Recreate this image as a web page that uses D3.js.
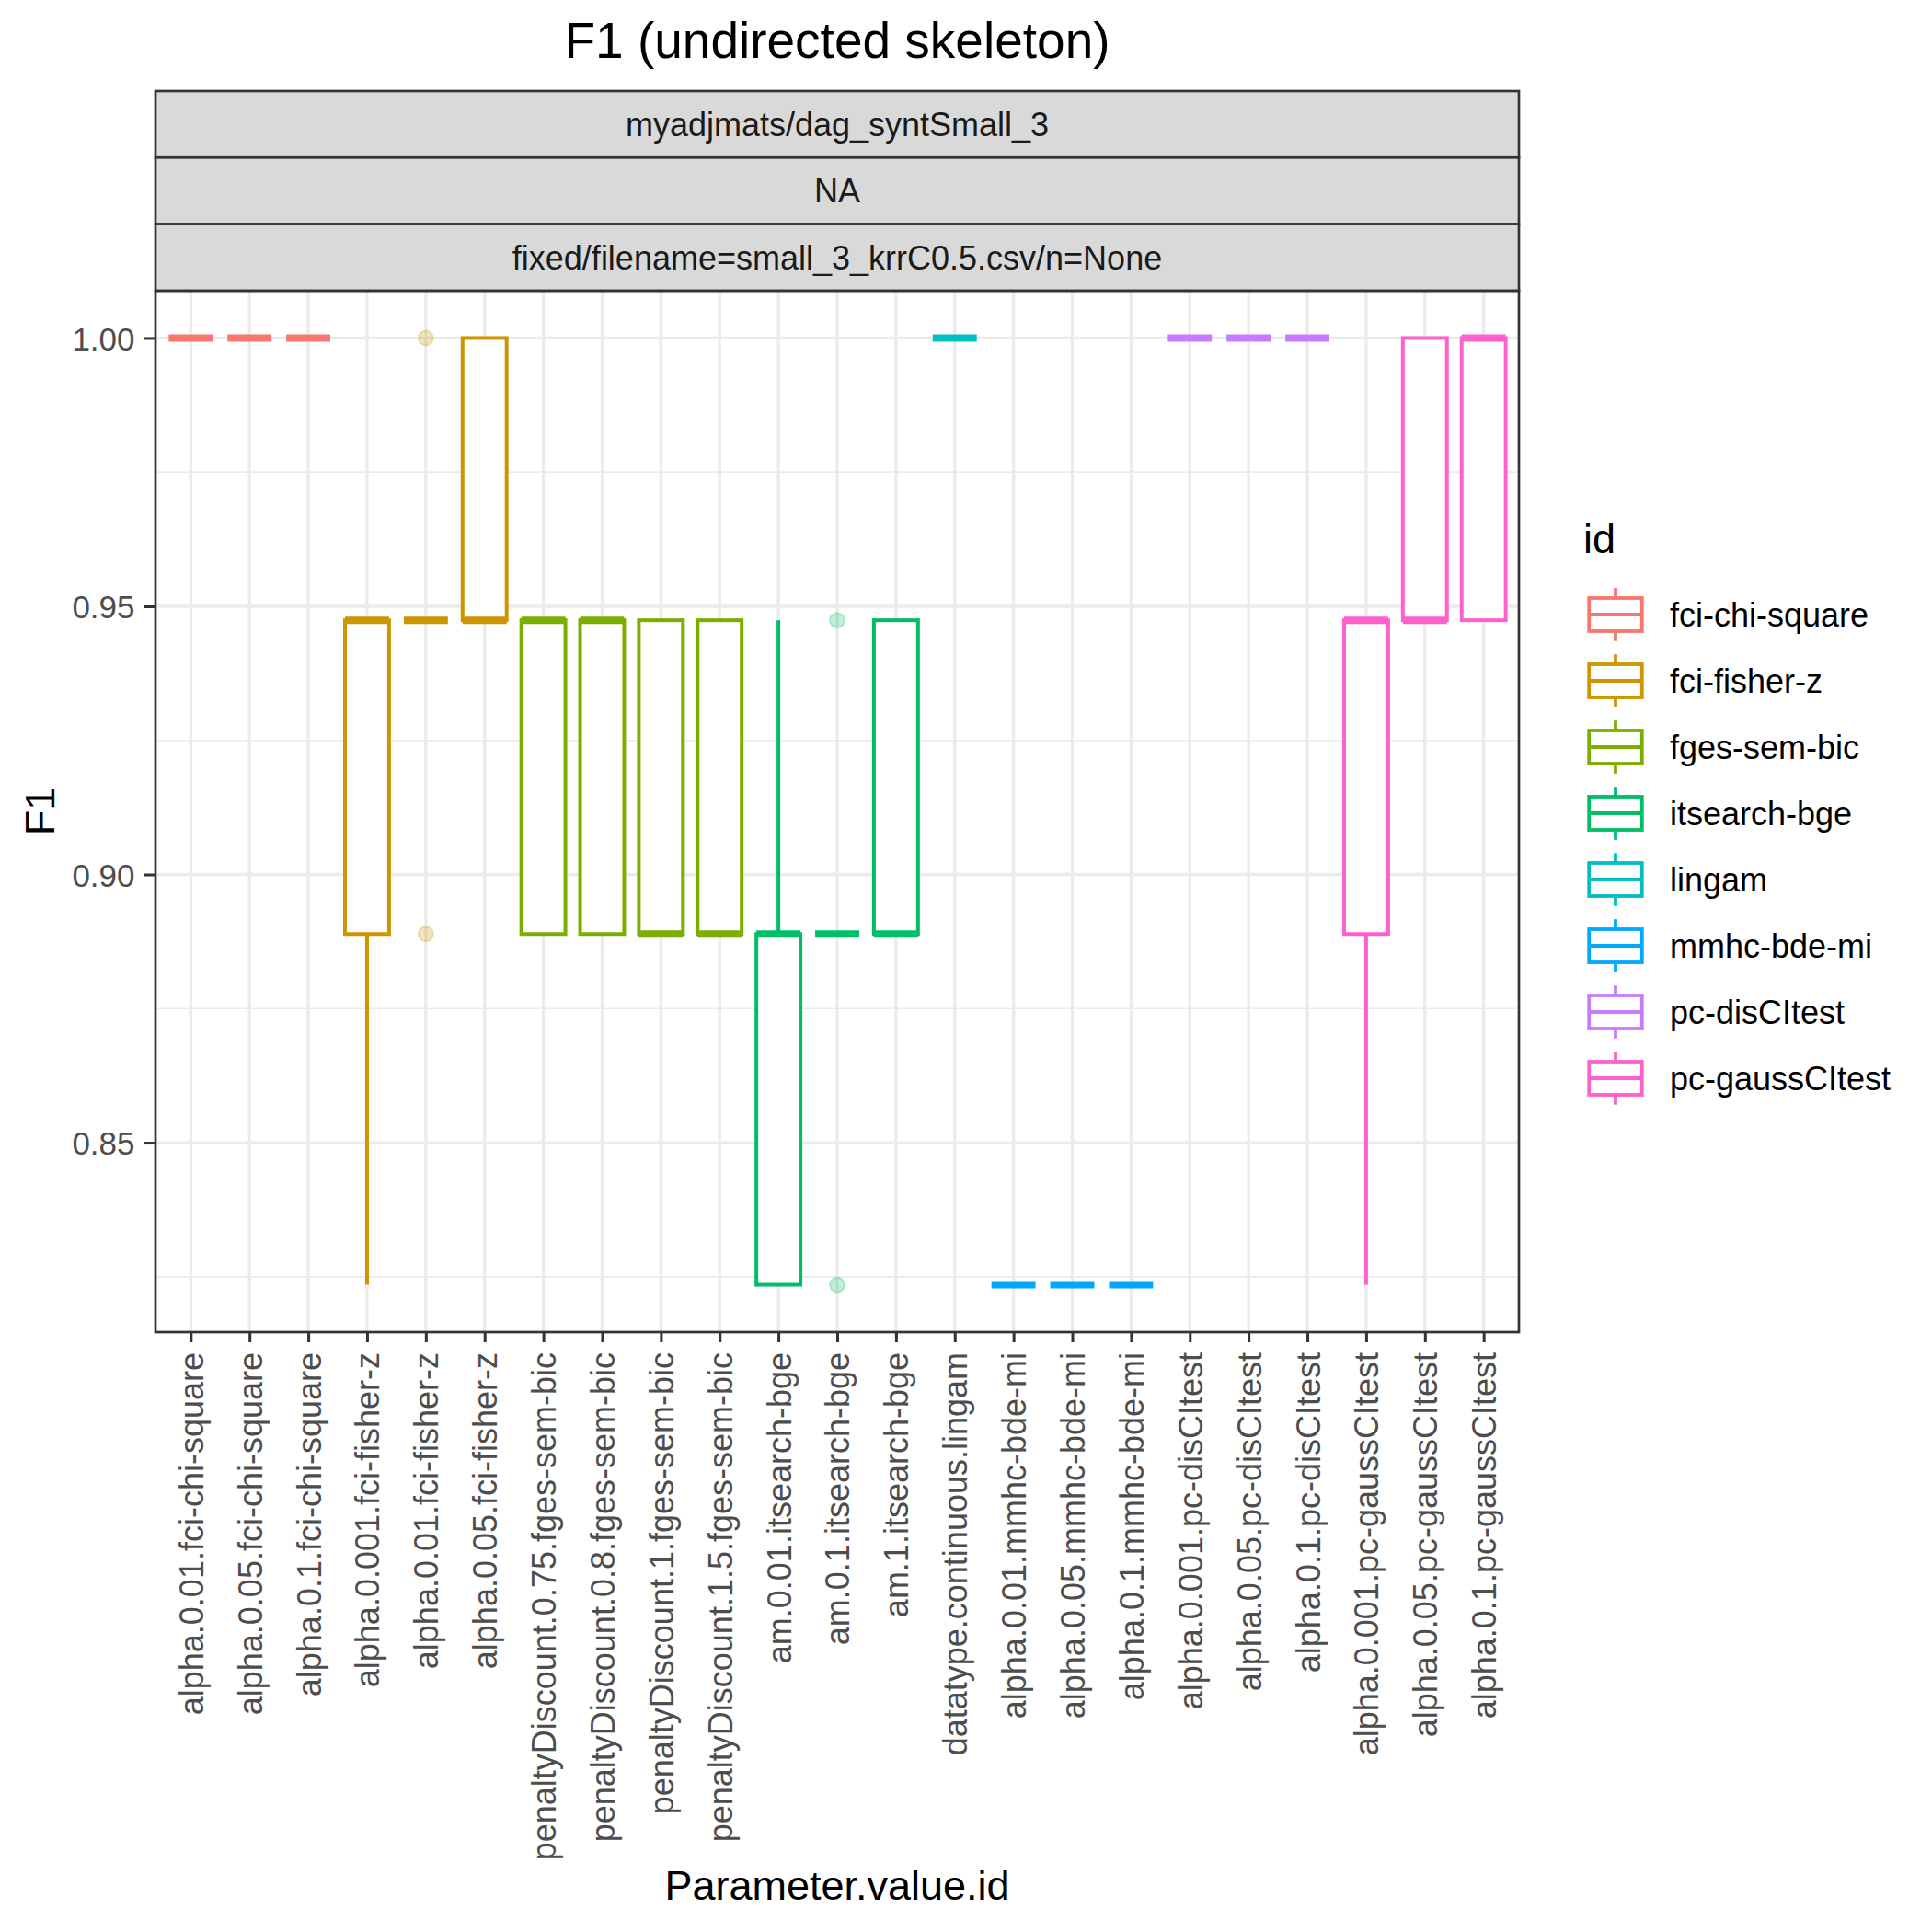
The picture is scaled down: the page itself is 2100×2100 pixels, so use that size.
<!DOCTYPE html>
<html>
<head>
<meta charset="utf-8">
<script src="https://cdn.jsdelivr.net/npm/d3@7"></script>
<style>
  body { margin: 0; background: #fff; }
  text { font-family: "Liberation Sans", Arial, Helvetica, sans-serif; }
</style>
</head>
<body>
<script>
// data
const categories = [
  "alpha.0.01.fci-chi-square", "alpha.0.05.fci-chi-square", "alpha.0.1.fci-chi-square",
  "alpha.0.001.fci-fisher-z", "alpha.0.01.fci-fisher-z", "alpha.0.05.fci-fisher-z",
  "penaltyDiscount.0.75.fges-sem-bic", "penaltyDiscount.0.8.fges-sem-bic",
  "penaltyDiscount.1.fges-sem-bic", "penaltyDiscount.1.5.fges-sem-bic",
  "am.0.01.itsearch-bge", "am.0.1.itsearch-bge", "am.1.itsearch-bge",
  "datatype.continuous.lingam",
  "alpha.0.01.mmhc-bde-mi", "alpha.0.05.mmhc-bde-mi", "alpha.0.1.mmhc-bde-mi",
  "alpha.0.001.pc-disCItest", "alpha.0.05.pc-disCItest", "alpha.0.1.pc-disCItest",
  "alpha.0.001.pc-gaussCItest", "alpha.0.05.pc-gaussCItest", "alpha.0.1.pc-gaussCItest"
];
const groupOf = [
  "fci-chi-square", "fci-chi-square", "fci-chi-square",
  "fci-fisher-z", "fci-fisher-z", "fci-fisher-z",
  "fges-sem-bic", "fges-sem-bic", "fges-sem-bic", "fges-sem-bic",
  "itsearch-bge", "itsearch-bge", "itsearch-bge",
  "lingam",
  "mmhc-bde-mi", "mmhc-bde-mi", "mmhc-bde-mi",
  "pc-disCItest", "pc-disCItest", "pc-disCItest",
  "pc-gaussCItest", "pc-gaussCItest", "pc-gaussCItest"
];
const ids = ["fci-chi-square", "fci-fisher-z", "fges-sem-bic", "itsearch-bge",
  "lingam", "mmhc-bde-mi", "pc-disCItest", "pc-gaussCItest"];
const idColors = ["#F8766D", "#CD9600", "#7CAE00", "#00BE67",
  "#00BFC4", "#00A9FF", "#C77CFF", "#FF61CC"];

const lowerW = [1, 1, 1, 0.8235, 0.9474, 0.9474, 0.8889, 0.8889, 0.8889, 0.8889,
  0.8235, 0.8889, 0.8889, 1, 0.8235, 0.8235, 0.8235, 1, 1, 1, 0.8235, 0.9474, 0.9474];
const q1 = [1, 1, 1, 0.8889, 0.9474, 0.9474, 0.8889, 0.8889, 0.8889, 0.8889,
  0.8235, 0.8889, 0.8889, 1, 0.8235, 0.8235, 0.8235, 1, 1, 1, 0.8889, 0.9474, 0.9474];
const medians = [1, 1, 1, 0.9474, 0.9474, 0.9474, 0.9474, 0.9474, 0.8889, 0.8889,
  0.8889, 0.8889, 0.8889, 1, 0.8235, 0.8235, 0.8235, 1, 1, 1, 0.9474, 0.9474, 1];
const q3 = [1, 1, 1, 0.9474, 0.9474, 1, 0.9474, 0.9474, 0.9474, 0.9474,
  0.8889, 0.8889, 0.9474, 1, 0.8235, 0.8235, 0.8235, 1, 1, 1, 0.9474, 1, 1];
const upperW = [1, 1, 1, 0.9474, 0.9474, 1, 0.9474, 0.9474, 0.9474, 0.9474,
  0.9474, 0.8889, 0.9474, 1, 0.8235, 0.8235, 0.8235, 1, 1, 1, 0.9474, 1, 1];
const outliers = [
  { cat: "alpha.0.01.fci-fisher-z", value: 1.0 },
  { cat: "alpha.0.01.fci-fisher-z", value: 0.8889 },
  { cat: "am.0.1.itsearch-bge", value: 0.9474 },
  { cat: "am.0.1.itsearch-bge", value: 0.8235 }
];
const yTicks = [0.85, 0.90, 0.95, 1.00];
const yMinor = [0.825, 0.875, 0.925, 0.975];
const stripLabels = ["myadjmats/dag_syntSmall_3", "NA", "fixed/filename=small_3_krrC0.5.csv/n=None"];

const W = 2100, H = 2100;
const panel = { left: 169, right: 1651, top: 316, bottom: 1448 };
const stripTop = 99, stripH = 72.3;

const svg = d3.select("body").append("svg")
  .attr("width", W).attr("height", H);
svg.append("rect").attr("width", W).attr("height", H).attr("fill", "#fff");

const color = d3.scaleOrdinal().domain(ids).range(idColors);

const x = d3.scalePoint()
  .domain(categories)
  .range([panel.left, panel.right])
  .padding(0.6);

const allVals = lowerW.concat(upperW, outliers.map(d => d.value));
const ext = d3.extent(allVals);
const pad = (ext[1] - ext[0]) * 0.05;
const y = d3.scaleLinear()
  .domain([ext[0] - pad, ext[1] + pad])
  .range([panel.bottom, panel.top]);

const boxes = categories.map((c, i) => ({
  cat: c, id: groupOf[i], lo: lowerW[i], q1: q1[i], med: medians[i], q3: q3[i], hi: upperW[i]
}));

// gridlines
const grid = svg.append("g");
grid.selectAll(".minor").data(yMinor).enter().append("line")
  .attr("x1", panel.left).attr("x2", panel.right)
  .attr("y1", d => y(d)).attr("y2", d => y(d))
  .attr("stroke", "#EBEBEB").attr("stroke-width", 1.7);
grid.selectAll(".majy").data(yTicks).enter().append("line")
  .attr("x1", panel.left).attr("x2", panel.right)
  .attr("y1", d => y(d)).attr("y2", d => y(d))
  .attr("stroke", "#EBEBEB").attr("stroke-width", 3.3);
grid.selectAll(".majx").data(categories).enter().append("line")
  .attr("x1", d => x(d)).attr("x2", d => x(d))
  .attr("y1", panel.top).attr("y2", panel.bottom)
  .attr("stroke", "#EBEBEB").attr("stroke-width", 3.3);

// boxplots
const bw = x.step() * 0.75;
const bg = svg.append("g").selectAll("g").data(boxes).enter().append("g")
  .attr("stroke", d => color(d.id));
bg.append("line")
  .attr("x1", d => x(d.cat)).attr("x2", d => x(d.cat))
  .attr("y1", d => y(d.q3)).attr("y2", d => y(d.hi))
  .attr("stroke-width", 4);
bg.append("line")
  .attr("x1", d => x(d.cat)).attr("x2", d => x(d.cat))
  .attr("y1", d => y(d.q1)).attr("y2", d => y(d.lo))
  .attr("stroke-width", 4);
bg.append("rect")
  .attr("x", d => x(d.cat) - bw / 2).attr("width", bw)
  .attr("y", d => y(d.q3)).attr("height", d => y(d.q1) - y(d.q3))
  .attr("fill", "#fff").attr("stroke-width", 4);
bg.append("line")
  .attr("x1", d => x(d.cat) - bw / 2).attr("x2", d => x(d.cat) + bw / 2)
  .attr("y1", d => y(d.med)).attr("y2", d => y(d.med))
  .attr("stroke-width", 8);

// outliers
svg.append("g").selectAll("circle").data(outliers).enter().append("circle")
  .attr("cx", d => x(d.cat)).attr("cy", d => y(d.value)).attr("r", 8)
  .attr("fill", d => color(groupOf[categories.indexOf(d.cat)]))
  .attr("fill-opacity", 0.25)
  .attr("stroke", d => color(groupOf[categories.indexOf(d.cat)]))
  .attr("stroke-opacity", 0.25).attr("stroke-width", 2);

// panel border
svg.append("rect")
  .attr("x", panel.left).attr("y", panel.top)
  .attr("width", panel.right - panel.left).attr("height", panel.bottom - panel.top)
  .attr("fill", "none").attr("stroke", "#333333").attr("stroke-width", 2.7);

// strips
const strips = svg.append("g").selectAll("g").data(stripLabels).enter().append("g");
strips.append("rect")
  .attr("x", panel.left).attr("width", panel.right - panel.left)
  .attr("y", (d, i) => stripTop + i * stripH).attr("height", stripH)
  .attr("fill", "#D9D9D9").attr("stroke", "#333333").attr("stroke-width", 2.7);
strips.append("text")
  .attr("x", (panel.left + panel.right) / 2)
  .attr("y", (d, i) => stripTop + i * stripH + stripH / 2 + 12.8)
  .attr("text-anchor", "middle").attr("font-size", 36).attr("fill", "#1A1A1A")
  .text(d => d);

// axes
const yAxis = svg.append("g")
  .attr("transform", "translate(" + panel.left + ",0)")
  .call(d3.axisLeft(y).tickValues(yTicks).tickFormat(d3.format(".2f")).tickSize(12.5).tickPadding(10));
yAxis.select(".domain").remove();
yAxis.selectAll("line").attr("stroke", "#333333").attr("stroke-width", 3);
yAxis.selectAll("text").attr("font-size", 35).attr("fill", "#4D4D4D")
  .attr("font-family", "Liberation Sans, Arial, sans-serif").attr("dy", "0.36em");

const xAxis = svg.append("g")
  .attr("transform", "translate(0," + panel.bottom + ")")
  .call(d3.axisBottom(x).tickSize(11));
xAxis.select(".domain").remove();
xAxis.selectAll("line").attr("stroke", "#333333").attr("stroke-width", 3);
xAxis.selectAll("text")
  .attr("font-size", 36).attr("fill", "#4D4D4D")
  .attr("font-family", "Liberation Sans, Arial, sans-serif")
  .attr("transform", "rotate(-90)")
  .attr("x", -22).attr("y", 0).attr("dy", "0.36em")
  .attr("text-anchor", "end");

// titles
svg.append("text")
  .attr("x", (panel.left + panel.right) / 2).attr("y", 63)
  .attr("text-anchor", "middle").attr("font-size", 55).attr("fill", "#000")
  .text("F1 (undirected skeleton)");
svg.append("text")
  .attr("x", (panel.left + panel.right) / 2).attr("y", 2065)
  .attr("text-anchor", "middle").attr("font-size", 45).attr("fill", "#000")
  .text("Parameter.value.id");
svg.append("text")
  .attr("transform", "translate(59," + ((panel.top + panel.bottom) / 2) + ") rotate(-90)")
  .attr("text-anchor", "middle").attr("font-size", 45).attr("fill", "#000")
  .text("F1");

// legend
const lg = svg.append("g");
lg.append("text").attr("x", 1721).attr("y", 601)
  .attr("font-size", 45).attr("fill", "#000").text("id");
const keyH = 72, keyW = 72, keyX = 1720, keyY0 = 632;
const keys = lg.selectAll(".key").data(ids).enter().append("g")
  .attr("transform", (d, i) => "translate(" + keyX + "," + (keyY0 + i * keyH) + ")")
  .attr("stroke", d => color(d));
keys.append("line")
  .attr("x1", keyW / 2).attr("x2", keyW / 2)
  .attr("y1", keyH * 0.1).attr("y2", keyH * 0.9).attr("stroke-width", 3.8);
keys.append("rect")
  .attr("x", keyW * 0.1).attr("width", keyW * 0.8)
  .attr("y", keyH * 0.25).attr("height", keyH * 0.5)
  .attr("fill", "#fff").attr("stroke-width", 3.8);
keys.append("line")
  .attr("x1", keyW * 0.1).attr("x2", keyW * 0.9)
  .attr("y1", keyH / 2).attr("y2", keyH / 2).attr("stroke-width", 3.8);
keys.append("text")
  .attr("x", 1815 - keyX).attr("y", keyH / 2 + 12.8)
  .attr("stroke", "none").attr("fill", "#000").attr("font-size", 36)
  .text(d => d);
</script>
</body>
</html>
